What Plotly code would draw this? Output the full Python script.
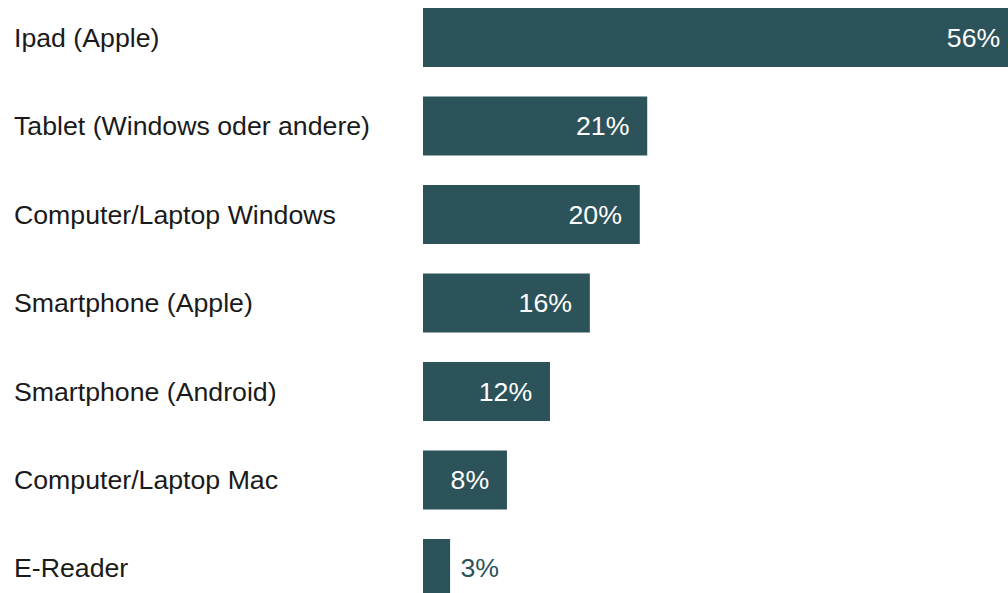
import plotly.graph_objects as go

categories = ["Ipad (Apple)", "Tablet (Windows oder andere)", "Computer/Laptop Windows",
              "Smartphone (Apple)", "Smartphone (Android)", "Computer/Laptop Mac", "E-Reader"]
values = [56.0, 21.1, 20.4, 15.7, 11.95, 7.9, 2.55]
label_inside = [True, True, True, True, True, True, False]

BAR = "#2c535a"
FONT = "Liberation Sans, Arial, sans-serif"
FS = 26.7
NB = "\u00a0"

positions = ["inside" if i else "outside" for i in label_inside]
templates = ["%{x:.0f}%" + NB * 2 if i else NB + "%{x:.0f}%" for i in label_inside]
colors = ["white" if i else BAR for i in label_inside]

fig = go.Figure()
fig.add_trace(go.Bar(
    x=values, y=categories, orientation="h",
    marker=dict(color=BAR, line=dict(width=0)),
    width=0.667, hoverinfo="skip",
    texttemplate=templates, textposition=positions,
    insidetextanchor="end", constraintext="none", cliponaxis=True,
    textfont=dict(family=FONT, size=FS, color=colors),
))

for cat in categories:
    fig.add_annotation(x=-423 / 585, y=cat, xref="paper", yref="y", text=cat, showarrow=False,
                       xanchor="left", xshift=12, yshift=0,
                       font=dict(family=FONT, size=FS, color="#1a1a1a"))

fig.update_layout(
    width=1008, height=593,
    margin=dict(l=423, r=0, t=0, b=0),
    paper_bgcolor="white", plot_bgcolor="white",
    showlegend=False, bargap=0.333,
    xaxis=dict(range=[0, 55.05], visible=False, fixedrange=True),
    yaxis=dict(categoryorder="array", categoryarray=categories,
               range=[6.277, -0.424], visible=False, fixedrange=True),
)

fig.write_html("out.html")
